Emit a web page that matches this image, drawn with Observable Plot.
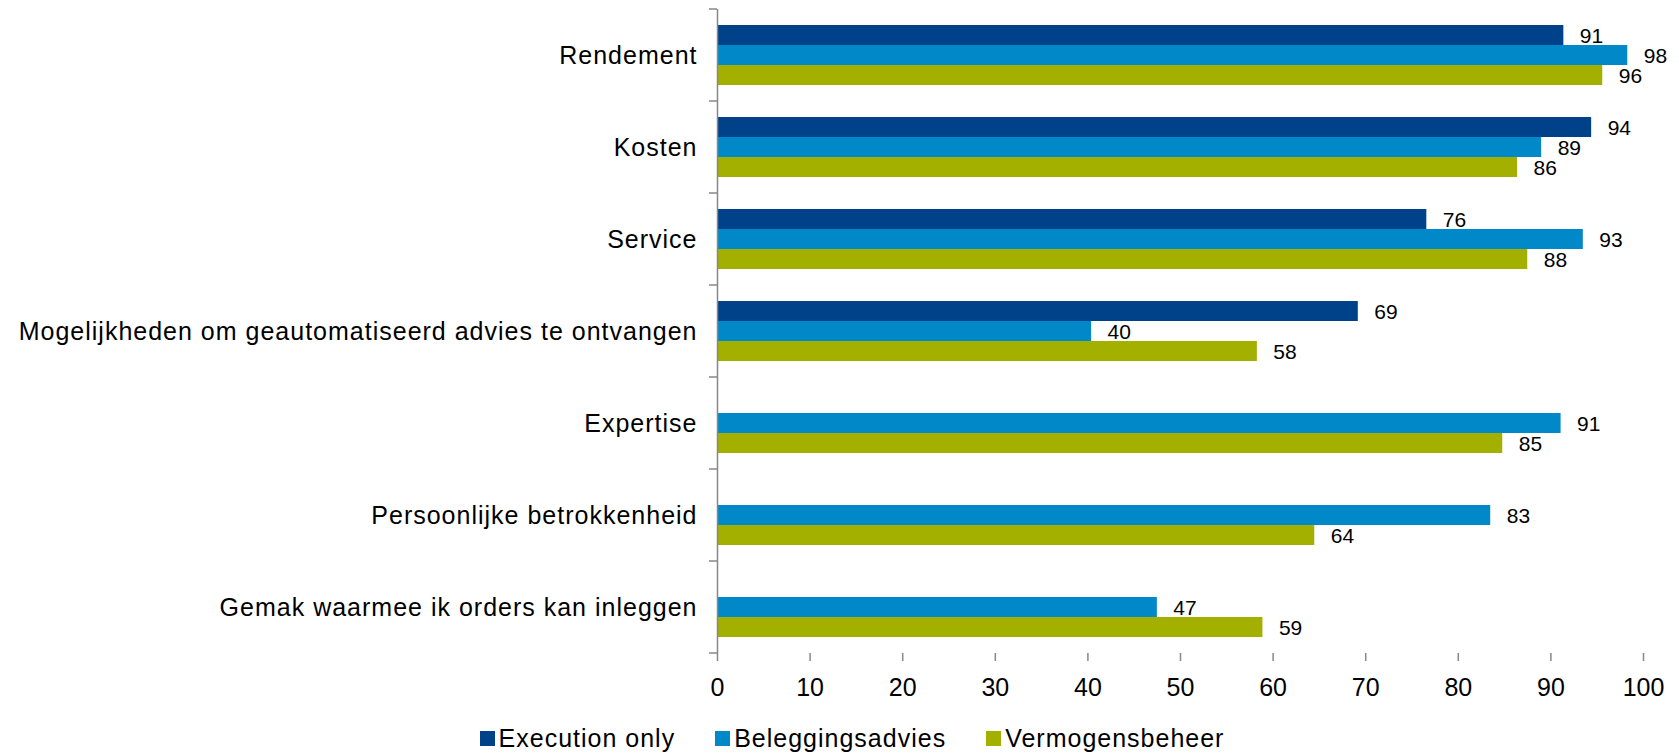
<!DOCTYPE html>
<html>
<head>
<meta charset="utf-8">
<script src="https://cdn.jsdelivr.net/npm/d3@7"></script>
<script src="https://cdn.jsdelivr.net/npm/@observablehq/plot@0.6"></script>
<style>
  html, body { margin: 0; padding: 0; background: #fff; }
  #chart { width: 1679px; }
  #chart svg [aria-label="fy-axis tick label"] text { letter-spacing: 1px; }
  .legend { display: flex; justify-content: center; align-items: center; height: 30px; padding-top: 13px; padding-left: 25px; width: 1654px;
            font-family: "Liberation Sans", Arial, sans-serif; font-size: 25px; letter-spacing: 1px; color: #000; }
  .legend .item { display: flex; align-items: center; margin: 0 20px; }
  .legend .sw { width: 15px; height: 15px; margin-right: 4px; }
</style>
</head>
<body>
<div id="chart"></div>
<div class="legend" id="legend"></div>
<script>
const categories = [
  "Rendement",
  "Kosten",
  "Service",
  "Mogelijkheden om geautomatiseerd advies te ontvangen",
  "Expertise",
  "Persoonlijke betrokkenheid",
  "Gemak waarmee ik orders kan inleggen"
];
const series = ["Execution only", "Beleggingsadvies", "Vermogensbeheer"];
const seriesColors = ["#00428A", "#0088C8", "#A3B000"];

// bar lengths
const executionOnly    = [91.4, 94.4, 76.6, 69.2, null, null, null];
const beleggingsadvies = [98.3, 89.0, 93.5, 40.4, 91.1, 83.5, 47.5];
const vermogensbeheer  = [95.6, 86.4, 87.5, 58.3, 84.8, 64.5, 58.9];
// data labels as printed
const executionOnlyLabels    = [91, 94, 76, 69, null, null, null];
const beleggingsadviesLabels = [98, 89, 93, 40, 91, 83, 47];
const vermogensbeheerLabels  = [96, 86, 88, 58, 85, 64, 59];

const xTicks = [0, 10, 20, 30, 40, 50, 60, 70, 80, 90, 100];

const valueArrays = [executionOnly, beleggingsadvies, vermogensbeheer];
const labelArrays = [executionOnlyLabels, beleggingsadviesLabels, vermogensbeheerLabels];

const data = categories.flatMap((c, i) =>
  series.map((s, j) => ({category: c, series: s, value: valueArrays[j][i], label: labelArrays[j][i]}))
).filter(d => d.value != null);

const axisGray = "#878787";

const chart = Plot.plot({
  width: 1679,
  height: 710,
  marginLeft: 717,
  marginRight: 36,
  marginTop: 9,
  marginBottom: 57,
  style: {fontFamily: "'Liberation Sans', Arial, sans-serif", fontSize: "25px", color: "#000", background: "#fff"},
  x: {domain: [0, 100]},
  fy: {domain: categories, padding: 0},
  y: {domain: series, paddingInner: 0, paddingOuter: 0.8, axis: null},
  color: {domain: series, range: seriesColors},
  marks: [
    Plot.barX(data, {x: "value", y: "series", fy: "category", fill: "series"}),
    Plot.text(data, {x: "value", y: "series", fy: "category", text: d => String(d.label),
      dx: 16, dy: 1, textAnchor: "start", fontSize: 21, fill: "#000"}),
    Plot.ruleX([0], {stroke: axisGray, strokeWidth: 1.5}),
    Plot.axisX({ticks: xTicks, tickSize: 8, tickPadding: 17, stroke: axisGray, strokeWidth: 1.5, fill: "#000", fontSize: 25, label: null, line: true}),
    Plot.axisFy({anchor: "left", tickSize: 0, tickPadding: 20, label: null, fontSize: 25, fill: "#000"})
  ]
});

document.getElementById("chart").appendChild(chart);

// category boundary ticks on the y axis (Excel style), placed with Plot's own scales
const fy = chart.scale("fy");
const xs = chart.scale("x");
const x0 = xs.apply(0);
const bounds = categories.map(c => fy.apply(c));
bounds.push(fy.apply(categories[categories.length - 1]) + fy.bandwidth);
d3.select(chart).append("g")
  .selectAll("line").data(bounds).join("line")
  .attr("x1", x0 - 8).attr("x2", x0)
  .attr("y1", d => d).attr("y2", d => d)
  .attr("stroke", axisGray).attr("stroke-width", 1.5);

// legend
const legend = d3.select("#legend");
series.forEach((s, i) => {
  const item = legend.append("div").attr("class", "item");
  item.append("div").attr("class", "sw").style("background", seriesColors[i]);
  item.append("span").text(s);
});
</script>
</body>
</html>
